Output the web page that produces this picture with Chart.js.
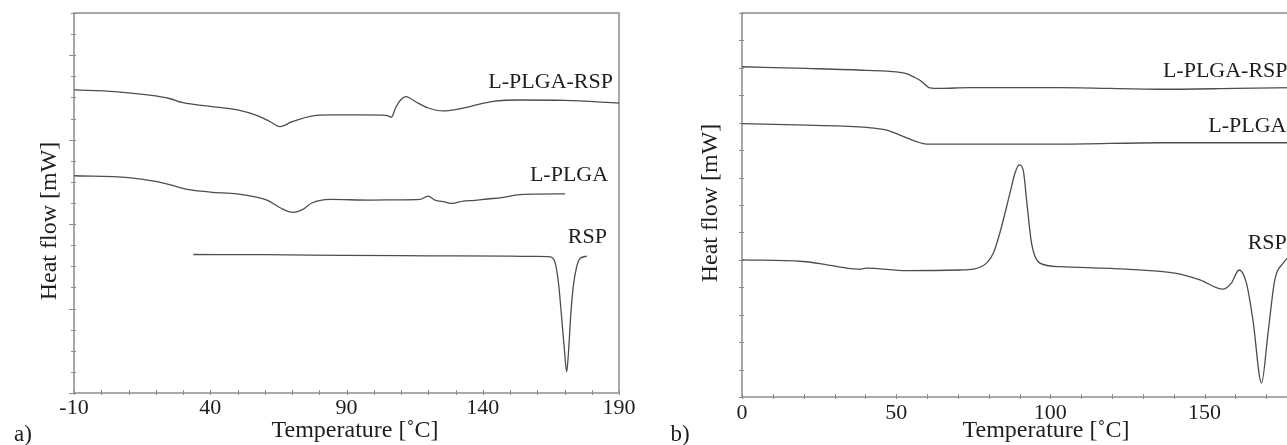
<!DOCTYPE html>
<html>
<head>
<meta charset="utf-8">
<script src="https://cdn.jsdelivr.net/npm/chart.js@4.4.1/dist/chart.umd.min.js"></script>
<style>
  html, body { margin: 0; padding: 0; background: #ffffff; overflow: hidden; width: 1287px; height: 445px; }
  canvas { position: absolute; top: 0; }
  #cA { left: 0px; }
  #cB { left: 660px; }
</style>
</head>
<body>
<canvas id="cA" width="645" height="445"></canvas>
<canvas id="cB" width="700" height="445"></canvas>
<script>
// ---------- Panel a) data ----------
const aTemp_LPLGARSP = [-10, 5, 17, 25, 30, 40, 50, 57, 62, 65.6, 70, 77.7, 84, 95, 103, 105, 106.5, 108, 110, 111.8, 113.5, 116, 120, 125.4, 130, 135.3, 143.8, 153.7, 170, 190];
const aHeat_LPLGARSP = [14.36, 14.28, 14.12, 13.95, 13.75, 13.58, 13.41, 13.15, 12.85, 12.62, 12.85, 13.13, 13.17, 13.17, 13.16, 13.14, 13.07, 13.5, 13.9, 14.04, 13.95, 13.75, 13.5, 13.36, 13.42, 13.57, 13.81, 13.88, 13.86, 13.73];

const aTemp_LPLGA = [-10, 10, 20.5, 27, 31.5, 40, 49.8, 56, 60.8, 66, 70.4, 74, 77.3, 84, 98.6, 110, 117, 119.9, 122.5, 126, 128.7, 132.8, 137, 141.6, 147, 152.6, 160, 170.2];
const aHeat_LPLGA = [10.29, 10.2, 10.01, 9.8, 9.65, 9.52, 9.43, 9.3, 9.14, 8.75, 8.56, 8.7, 9.0, 9.17, 9.14, 9.15, 9.17, 9.33, 9.14, 9.05, 8.98, 9.09, 9.12, 9.19, 9.25, 9.38, 9.42, 9.43];

const aTemp_RSP = [33.8, 60, 90, 120, 150, 160, 164.7, 166.5, 167.8, 169, 170, 170.8, 171.5, 172.3, 173.2, 174.5, 175.7, 178.2];
const aHeat_RSP = [6.56, 6.55, 6.52, 6.5, 6.48, 6.47, 6.45, 6.2, 5.2, 3.5, 2.0, 1.0, 2.0, 3.7, 5.03, 6.0, 6.37, 6.48];

const aXTickLabels = [-10, 40, 90, 140, 190];

// ---------- Panel b) data ----------
const bTemp_LPLGARSP = [0, 21, 40.4, 50.1, 53.4, 55.5, 57.7, 59.5, 60.9, 64.2, 73.9, 103, 135.5, 160, 180];
const bHeat_LPLGARSP = [12.04, 11.98, 11.91, 11.85, 11.79, 11.68, 11.55, 11.38, 11.27, 11.25, 11.28, 11.28, 11.22, 11.25, 11.28];

const bTemp_LPLGA = [0, 21, 40.4, 46.9, 51.2, 56.6, 59.9, 73.9, 103, 135.5, 180];
const bHeat_LPLGA = [9.97, 9.91, 9.83, 9.73, 9.55, 9.31, 9.22, 9.22, 9.22, 9.27, 9.27];

const bTemp_RSP = [0, 19.7, 27.5, 33.9, 38.2, 40.4, 53.4, 70.7, 75, 79.3, 81.5, 83.6, 86.9, 88.5, 89.9, 91.2, 92.3, 93.9, 96.6, 103.1, 124.7, 140.9, 148.5, 156, 158.7, 161.2, 163.6, 165.7, 168.5, 170.6, 172.8, 175.5, 177.6, 180];
const bHeat_RSP = [5.0, 4.94, 4.82, 4.70, 4.66, 4.70, 4.61, 4.63, 4.66, 4.88, 5.24, 5.97, 7.43, 8.15, 8.46, 8.27, 7.18, 5.61, 4.88, 4.75, 4.66, 4.51, 4.27, 3.93, 4.15, 4.63, 4.15, 2.81, 0.51, 2.33, 4.27, 4.88, 5.12, 5.2];

const bXTickLabels = [0, 50, 100, 150];

const seriesNames = ['L-PLGA-RSP', 'L-PLGA', 'RSP'];

// label anchors (data coordinates)
const aLabelX = [187.8, 186, 185.6];
const aLabelY = [14.7, 10.33, 7.36];
const bLabelX = [136.5, 151.2, 164.0];
const bLabelY = [11.88, 9.88, 5.62];

const xTitle = 'Temperature [\u02DAC]';
const yTitle = 'Heat flow [mW]';

// ---------- helpers ----------
const LINE = '#4d4d4d';
const AXIS = '#8c8c8c';
const TEXT = '#1e1e1e';
const SERIF = '"Liberation Serif", "Times New Roman", serif';

function pts(xs, ys) { return xs.map((x, i) => ({ x: x, y: ys[i] })); }

function ds(xs, ys) {
  return {
    data: pts(xs, ys),
    borderColor: LINE,
    borderWidth: 1.3,
    pointRadius: 0,
    fill: false,
    cubicInterpolationMode: 'monotone'
  };
}

function panelPlugin(cfg) {
  return {
    id: 'panel_' + cfg.tag,
    beforeDatasetsDraw(chart) {
      const ctx = chart.ctx;
      const a = chart.chartArea;
      const xs = chart.scales.x, ys = chart.scales.y;
      ctx.save();
      ctx.strokeStyle = AXIS;
      ctx.lineWidth = 1.5;
      ctx.strokeRect(a.left, a.top, a.right - a.left, a.bottom - a.top);
      ctx.lineWidth = 1;
      for (let v = xs.min; v <= xs.max + 1e-9; v += 10) {
        const px = Math.round(xs.getPixelForValue(v)) + 0.5;
        ctx.beginPath();
        ctx.moveTo(px, a.bottom - 3);
        ctx.lineTo(px, a.bottom + 2);
        ctx.stroke();
      }
      for (let v = ys.min; v <= ys.max + 1e-9; v += 1) {
        const py = Math.round(ys.getPixelForValue(v)) + 0.5;
        const major = cfg.yMajor && (v % cfg.yMajor === 0);
        ctx.beginPath();
        ctx.moveTo(a.left - (major ? 5 : 3), py);
        ctx.lineTo(a.left + 2, py);
        ctx.stroke();
      }
      ctx.restore();
    },
    afterDraw(chart) {
      const ctx = chart.ctx;
      const a = chart.chartArea;
      const xs = chart.scales.x, ys = chart.scales.y;
      ctx.save();
      ctx.fillStyle = TEXT;
      ctx.font = '22px ' + SERIF;
      ctx.textAlign = 'center';
      ctx.textBaseline = 'middle';
      cfg.xTicks.forEach(v => {
        ctx.fillText(String(v), xs.getPixelForValue(v), a.bottom + cfg.tickGap);
      });
      ctx.textAlign = cfg.labelAlign;
      seriesNames.forEach((n, i) => {
        ctx.fillText(n, xs.getPixelForValue(cfg.lx[i]), ys.getPixelForValue(cfg.ly[i]));
      });
      ctx.font = '24px ' + SERIF;
      ctx.textAlign = 'center';
      ctx.fillText(xTitle, cfg.xTitlePos[0], cfg.xTitlePos[1]);
      ctx.save();
      ctx.translate(cfg.yTitlePos[0], cfg.yTitlePos[1]);
      ctx.rotate(-Math.PI / 2);
      ctx.fillText(yTitle, 0, 0);
      ctx.restore();
      ctx.font = '23px ' + SERIF;
      ctx.fillText(cfg.tag, cfg.tagPos[0], cfg.tagPos[1]);
      ctx.restore();
    }
  };
}

function makeChart(id, datasets, xmin, xmax, ymax, padding, cfg) {
  return new Chart(document.getElementById(id), {
    type: 'line',
    data: { datasets: datasets },
    options: {
      responsive: false,
      animation: false,
      events: [],
      layout: { padding: padding },
      plugins: { legend: { display: false }, tooltip: { enabled: false } },
      scales: {
        x: { type: 'linear', min: xmin, max: xmax, display: false },
        y: { type: 'linear', min: 0, max: ymax, display: false }
      }
    },
    plugins: [panelPlugin(cfg)]
  });
}

makeChart('cA',
  [ds(aTemp_LPLGARSP, aHeat_LPLGARSP), ds(aTemp_LPLGA, aHeat_LPLGA), ds(aTemp_RSP, aHeat_RSP)],
  -10, 190, 18,
  { left: 74, right: 26, top: 13, bottom: 52 },
  { tag: 'a)', xTicks: aXTickLabels, tickGap: 15, yMajor: 4, lx: aLabelX, ly: aLabelY, labelAlign: 'right',
    xTitlePos: [355, 431], yTitlePos: [50, 221], tagPos: [23, 435] });

makeChart('cB',
  [ds(bTemp_LPLGARSP, bHeat_LPLGARSP), ds(bTemp_LPLGA, bHeat_LPLGA), ds(bTemp_RSP, bHeat_RSP)],
  0, 180, 14,
  { left: 82, right: 63, top: 13, bottom: 48 },
  { tag: 'b)', xTicks: bXTickLabels, tickGap: 16, yMajor: 0, lx: bLabelX, ly: bLabelY, labelAlign: 'left',
    xTitlePos: [386, 431], yTitlePos: [51, 203], tagPos: [20, 435] });
</script>
</body>
</html>
